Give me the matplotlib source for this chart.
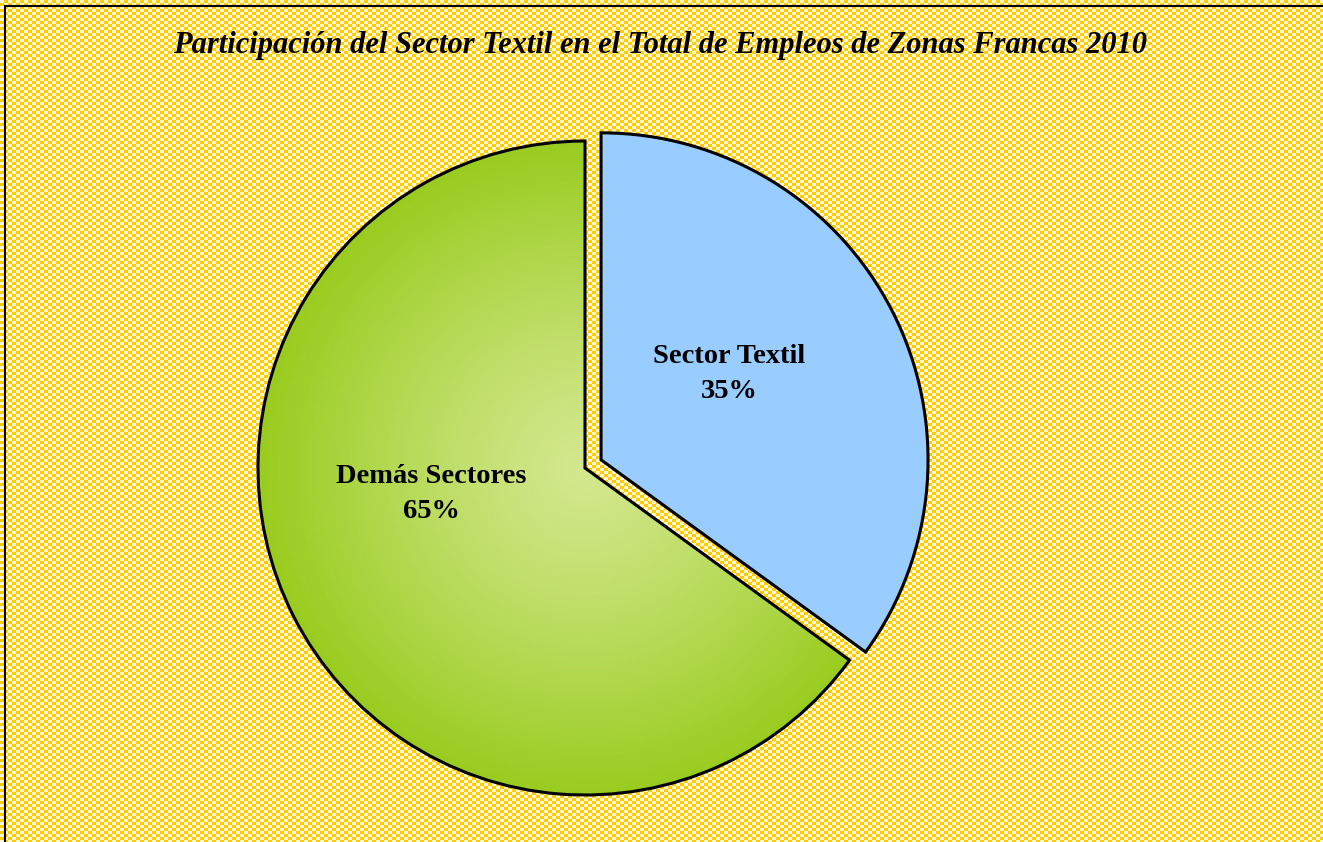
import matplotlib.pyplot as plt
import numpy as np
from matplotlib.patches import Rectangle

# Données
secteurs = ["Sector Textil", "Demás Sectores"]
parts = [35, 65]
titre = "Participación del Sector Textil en el Total de Empleos de Zonas Francas 2010"

LARGEUR, HAUTEUR = 1323, 842
CENTRE = (585, 842 - 468)
RAYON = 327
BLEU = "#99CCFF"
VERT_CLAIR = np.array([0.83, 0.91, 0.56])
VERT_FONCE = np.array([0.60, 0.80, 0.12])

plt.rcParams["font.family"] = ["Liberation Serif", "DejaVu Serif"]

figure = plt.figure(figsize=(LARGEUR / 100, HAUTEUR / 100), dpi=100)
axe = figure.add_axes([0, 0, 1, 1])

# fond en damier jaune / blanc
yy, xx = np.mgrid[0:HAUTEUR, 0:LARGEUR]
damier = ((xx // 4) + (yy // 3)) % 2
fond = np.where(damier[..., None] == 1,
                np.array([1.0, 0.80, 0.0]), np.array([1.0, 0.97, 0.85]))
axe.imshow(fond, extent=(0, LARGEUR, 0, HAUTEUR), origin="upper",
           interpolation="nearest", zorder=0)

# cadre
axe.add_patch(Rectangle((5, -5), LARGEUR, HAUTEUR - 6 + 5, fill=False,
                        edgecolor="black", linewidth=1.5, zorder=1))

# explode est en unités de données (pixels ici)
parts_camembert, _ = axe.pie(
    parts,
    colors=[BLEU, "none"],
    startangle=90,
    counterclock=False,
    explode=[18, 0],
    center=CENTRE,
    radius=RAYON,
    wedgeprops={"edgecolor": "black", "linewidth": 2.2},
    frame=True,
)
axe.set_xlim(0, LARGEUR)
axe.set_ylim(0, HAUTEUR)
axe.set_aspect("equal")
axe.axis("off")
for part in parts_camembert:
    part.set_zorder(3)

# dégradé radial pour la part verte
distance = np.hypot(xx - CENTRE[0], (HAUTEUR - yy) - CENTRE[1]) / RAYON
t = np.clip(distance, 0, 1) ** 1.2
degrade = VERT_CLAIR[None, None, :] * (1 - t[..., None]) + VERT_FONCE[None, None, :] * t[..., None]
image = axe.imshow(degrade, extent=(0, LARGEUR, 0, HAUTEUR), origin="upper",
                   interpolation="bilinear", zorder=2)
image.set_clip_path(parts_camembert[1])

axe.text(LARGEUR / 2 - 1, HAUTEUR - 45, titre, ha="center", va="center",
         fontsize=22, fontweight="bold", fontstyle="italic", zorder=5)

positions_etiquettes = [(729, HAUTEUR - 374), (431, HAUTEUR - 494)]
for nom, valeur, (x, y) in zip(secteurs, parts, positions_etiquettes):
    axe.text(x, y, f"{nom}\n{valeur}%", ha="center", va="center",
             fontsize=20.5, fontweight="bold", linespacing=1.55, zorder=5)

figure.savefig("out.png", dpi=100)
